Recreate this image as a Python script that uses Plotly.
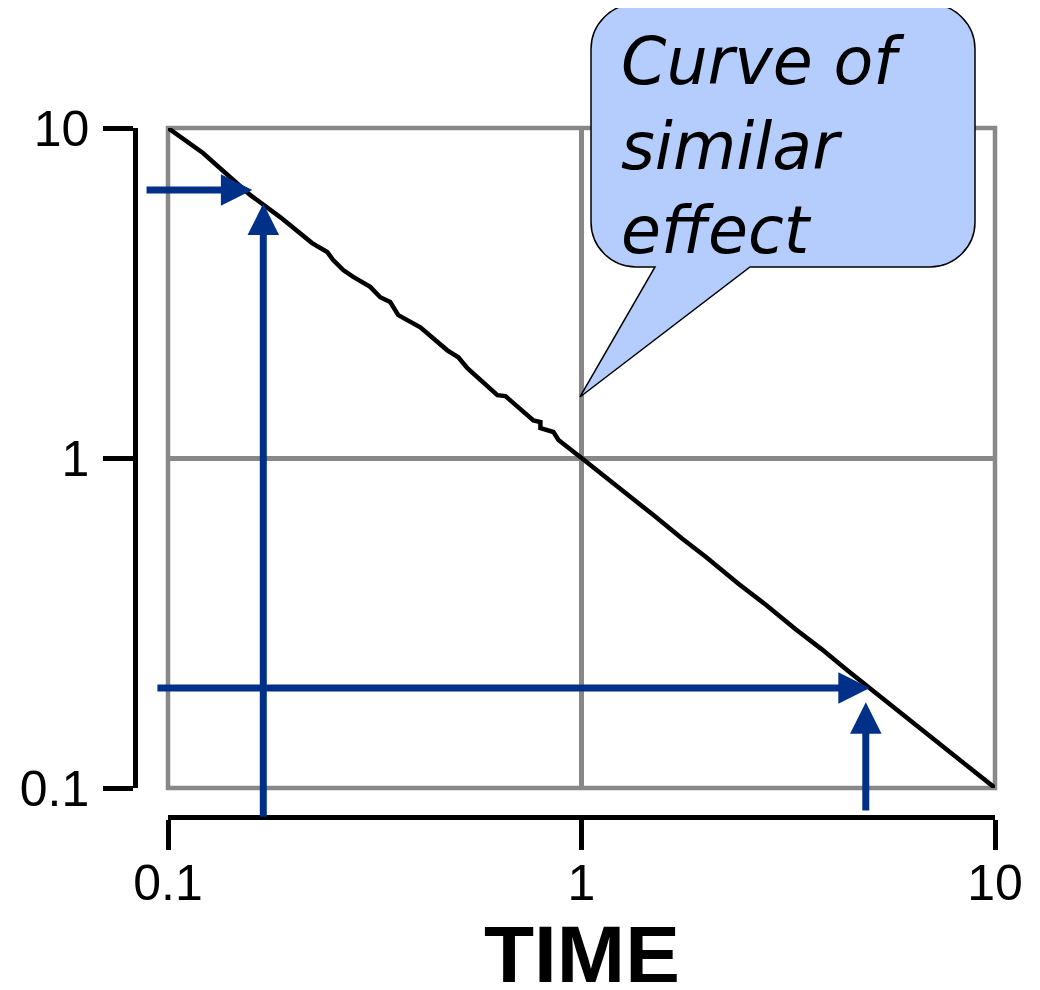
import numpy as np
import plotly.graph_objects as go

OFF = 8                      # page body margin
W, H = 1040 - 2 * OFF, 990 - 2 * OFF

# ---- data ----
curve_x = [0.1, 0.1215, 0.158, 0.1867, 0.2231, 0.2427, 0.2509, 0.2653, 0.2805, 0.3084,
           0.326, 0.3447, 0.3605, 0.3854, 0.4076, 0.4737, 0.5037, 0.5297, 0.626, 0.6546,
           0.7652, 0.7955, 0.7955, 0.8553, 0.8796, 1.0, 1.15, 1.3, 1.5, 1.75, 2.0, 2.4,
           2.8, 3.3, 3.8, 4.4, 5.0, 5.8, 6.8, 8.0, 9.0, 10.0]
curve_y = [10, 8.40, 6.27, 5.37, 4.48, 4.21, 3.98, 3.71, 3.54, 3.30,
           3.07, 2.97, 2.71, 2.58, 2.49, 2.12, 2.02, 1.87, 1.55, 1.54,
           1.30, 1.285, 1.232, 1.199, 1.134, 1.0, 0.872, 0.768, 0.668, 0.570, 0.501, 0.415,
           0.358, 0.302, 0.264, 0.227, 0.200, 0.172, 0.147, 0.125, 0.111, 0.1]

tick_vals = [0.1, 1, 10]
tick_text = ["0.1", "1", "10"]

# arrows: (tip_x, tip_y, tail_x, tail_y)
arrows = [
    (0.17, 5.9, 0.17, 0.081),      # vertical, upper
    (0.160, 6.49, 0.088, 6.49),    # horizontal, upper
    (4.98, 0.201, 0.0935, 0.201),  # horizontal, lower
    (4.87, 0.182, 4.87, 0.0846),   # vertical, lower
]

callout_text = "Curve of<br>similar<br>effect"
x_title = "TIME"

# ---- layout geometry (page pixels) ----
PL, PR, PT, PB = 168, 995, 128, 788
YAX_X = 135
XAX_Y = 817

def px(x):
    return (x - OFF) / W

def py(y):
    return 1 - (y - OFF) / H

grid = "#888888"

fig = go.Figure()

# plot-area border (grid lines at 0.1 and 10)
fig.add_shape(type="rect", xref="x domain", yref="y domain", x0=0, x1=1, y0=0, y1=1,
              line=dict(color=grid, width=4.5), layer="below")

fig.add_trace(go.Scatter(x=curve_x, y=curve_y, mode="lines",
                         line=dict(color="black", width=4.5),
                         cliponaxis=False, hoverinfo="skip", showlegend=False))
# dummy trace for free axes
fig.add_trace(go.Scatter(x=[1], y=[1], xaxis="x2", yaxis="y2", mode="markers",
                         marker=dict(opacity=0), showlegend=False, hoverinfo="skip"))

annotations = []
for tx, ty, sx, sy in arrows:
    annotations.append(dict(
        x=np.log10(tx), y=np.log10(ty), ax=np.log10(sx), ay=np.log10(sy),
        xref="x", yref="y", axref="x", ayref="y",
        showarrow=True, arrowhead=2, arrowsize=0.9, arrowwidth=7,
        arrowcolor="#003087", text=""))

# callout bubble
L, R, T, B, r = 591, 975, 4, 267, 45
k = 0.552 * r
tipx, tipy = 580, 397
b1, b2 = 655, 750

def P(x, y):
    return f"{px(x):.5f},{py(y):.5f}"

path = (f"M{P(L + r, T)} L{P(R - r, T)} C{P(R - r + k, T)} {P(R, T + r - k)} {P(R, T + r)} "
        f"L{P(R, B - r)} C{P(R, B - r + k)} {P(R - r + k, B)} {P(R - r, B)} "
        f"L{P(b2, B)} L{P(tipx, tipy)} L{P(b1, B)} "
        f"L{P(L + r, B)} C{P(L + r - k, B)} {P(L, B - r + k)} {P(L, B - r)} "
        f"L{P(L, T + r)} C{P(L, T + r - k)} {P(L + r - k, T)} {P(L + r, T)} Z")
fig.add_shape(type="path", path=path, xref="paper", yref="paper",
              fillcolor="#b4cdfc", line=dict(color="black", width=1.5), layer="above")

annotations.append(dict(
    text=callout_text, xref="paper", yref="paper", x=px(619), y=py(22),
    xanchor="left", yanchor="top", align="left", showarrow=False,
    font=dict(family="DejaVu Sans", size=65, color="black", style="italic")))

annotations.append(dict(
    text=f"<b>{x_title}</b>", xref="paper", yref="paper", x=px((PL + PR) / 2), y=py(954),
    xanchor="center", yanchor="middle", showarrow=False,
    font=dict(family="Liberation Sans", size=82, color="black")))

common_log = dict(type="log", range=[-1, 1], tickvals=tick_vals)
tickfont = dict(family="Liberation Sans", size=50, color="black")

fig.update_layout(
    width=W, height=H, margin=dict(l=0, r=0, t=0, b=0),
    paper_bgcolor="white", plot_bgcolor="white",
    xaxis=dict(**common_log, domain=[px(PL), px(PR)], showgrid=True, gridcolor=grid,
               gridwidth=4.5, showline=False,
               showticklabels=False, ticks="", zeroline=False, automargin=False),
    yaxis=dict(**common_log, domain=[py(PB), py(PT)], showgrid=True, gridcolor=grid,
               gridwidth=4.5, showline=False,
               showticklabels=False, ticks="", zeroline=False, automargin=False),
    xaxis2=dict(**common_log, overlaying="x", anchor="free", position=py(XAX_Y),
                side="bottom", showgrid=False, showline=True, linecolor="black",
                linewidth=4.5, ticks="outside", ticklen=30, tickwidth=4.5, tickcolor="black",
                ticktext=tick_text, ticklabelstandoff=-10, tickfont=tickfont,
                zeroline=False, automargin=False),
    yaxis2=dict(**common_log, overlaying="y", anchor="free", position=px(YAX_X),
                side="left", showgrid=False, showline=True, linecolor="black",
                linewidth=4.5, ticks="outside", ticklen=30, tickwidth=4.5, tickcolor="black",
                ticktext=tick_text, ticklabelstandoff=4, tickfont=tickfont,
                zeroline=False, automargin=False),
    annotations=annotations,
    showlegend=False,
)

fig.write_html("out.html")
